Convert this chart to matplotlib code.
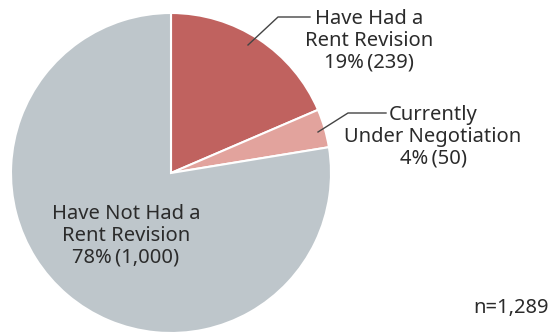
import matplotlib.pyplot as plt

plt.rcParams['font.family'] = ['Noto Sans', 'DejaVu Sans']

labels = ['Have Had a\nRent Revision', 'Currently\nUnder Negotiation', 'Have Not Had a\nRent Revision']
counts = [239, 50, 1000]
colors = ['#c0625f', '#e2a39d', '#bec6cb']
total = sum(counts)

W, H = 556, 334
fig = plt.figure(figsize=(W / 100, H / 100), dpi=100)
ax = fig.add_axes([0, 0, 1, 1])

# pie drawn in pixel-like coordinates (y measured from the bottom)
cx, cy, r = 171, H - 173, 160
ax.pie(counts, colors=colors, startangle=90, counterclock=False,
       center=(cx, cy), radius=r,
       wedgeprops=dict(edgecolor='white', linewidth=1.5))
ax.set_xlim(0, W)
ax.set_ylim(0, H)
ax.set_aspect('auto')
ax.axis('off')

def pct(n):
    return round(n / total * 100)

txt = '#2b2b2b'
fs = 14.5
ls = 1.12

# label 1 with leader
ax.plot([248, 278, 310], [H - 45, H - 17, H - 17], color='#444444', lw=1)
ax.text(369, H - 41, f'{labels[0]}\n{pct(counts[0])}%\u2009({counts[0]})',
        ha='center', va='center', fontsize=fs, color=txt, linespacing=ls)

# label 2 with leader
ax.plot([318, 348, 386], [H - 132, H - 113, H - 113], color='#444444', lw=1)
ax.text(433, H - 137, f'{labels[1]}\n{pct(counts[1])}%\u2009({counts[1]})',
        ha='center', va='center', fontsize=fs, color=txt, linespacing=ls)

# label 3 inside the slice
ax.text(126, H - 236, f'{labels[2]}\n{pct(counts[2])}%\u2009({counts[2]:,})',
        ha='center', va='center', fontsize=fs, color=txt, linespacing=ls)

ax.text(549, H - 308, f'n={total:,}', ha='right', va='center',
        fontsize=fs, color=txt)

fig.savefig('out.png', dpi=100)
